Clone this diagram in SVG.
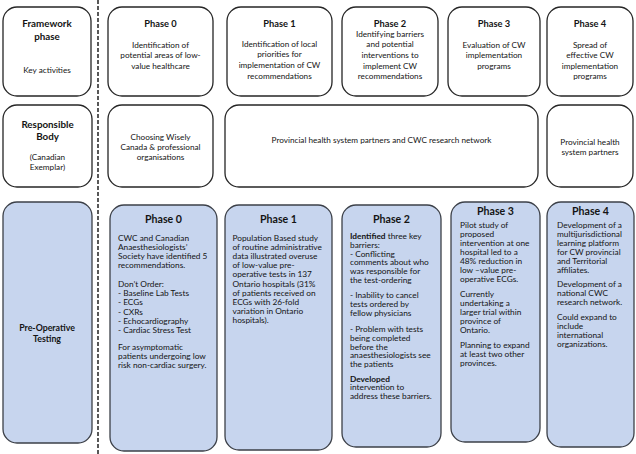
<svg xmlns="http://www.w3.org/2000/svg" width="636" height="454" viewBox="0 0 636 454">
<style>
text{font-family:Lato,"Liberation Sans",sans-serif;fill:#141414}
.box{fill:#fff;stroke:#262626;stroke-width:1.3}
.blue{fill:#c7d5ee;stroke:#3c4048;stroke-width:1.3}
.lab{font-size:9.8px;font-weight:bold;text-anchor:middle}
.h1{font-size:9.3px;font-weight:bold;text-anchor:middle}
.t1{font-size:8.2px;text-anchor:middle}
.h3{font-size:10.6px;font-weight:bold;text-anchor:middle}
.t3{font-size:8.3px}
.pl{font-size:8.8px;font-weight:bold;text-anchor:middle}
.b{font-weight:bold}
</style>
<rect width="636" height="454" fill="#fff"/>
<g id="connectors">
<line x1="98" y1="0" x2="98" y2="454" stroke="#222" stroke-width="1.5" stroke-dasharray="4 2"/>
</g>
<g id="framework-phase">
<rect class="box" x="3" y="7" width="88" height="89" rx="14"/>
<text class="lab" x="47" y="27">Framework</text>
<text class="lab" x="47" y="39.5">phase</text>
<text class="t1" x="47" y="73">Key activities</text>
</g>
<g id="phase0">
<rect class="box" x="108" y="7" width="105" height="89" rx="14"/>
<text class="h1" x="160.5" y="26.5">Phase 0</text>
<text class="t1" x="160.5" y="48">Identification of</text>
<text class="t1" x="160.5" y="58">potential areas of low-</text>
<text class="t1" x="160.5" y="68.7">value healthcare</text>
</g>
<g id="phase1">
<rect class="box" x="227" y="7" width="105" height="89" rx="14"/>
<text class="h1" x="279.5" y="27">Phase 1</text>
<text class="t1" x="279.5" y="47.3">Identification of local</text>
<text class="t1" x="279.5" y="57.3">priorities for</text>
<text class="t1" x="279.5" y="68">implementation of CW</text>
<text class="t1" x="279.5" y="79">recommendations</text>
</g>
<g id="phase2">
<rect class="box" x="342" y="7" width="96" height="89" rx="14"/>
<text class="h1" x="390" y="27">Phase 2</text>
<text class="t1" x="390" y="37.3">Identifying barriers</text>
<text class="t1" x="390" y="47.3">and potential</text>
<text class="t1" x="390" y="58">interventions to</text>
<text class="t1" x="390" y="68.7">implement CW</text>
<text class="t1" x="390" y="79">recommendations</text>
</g>
<g id="phase3">
<rect class="box" x="448" y="7" width="92" height="89" rx="14"/>
<text class="h1" x="494" y="27">Phase 3</text>
<text class="t1" x="494" y="48">Evaluation of CW</text>
<text class="t1" x="494" y="58">implementation</text>
<text class="t1" x="494" y="68.7">programs</text>
</g>
<g id="phase4">
<rect class="box" x="547" y="7" width="86" height="89" rx="14"/>
<text class="h1" x="590" y="27">Phase 4</text>
<text class="t1" x="590" y="48">Spread of</text>
<text class="t1" x="590" y="58">effective CW</text>
<text class="t1" x="590" y="68.7">implementation</text>
<text class="t1" x="590" y="79">programs</text>
</g>
<g id="responsible-body">
<rect class="box" x="3" y="105" width="89" height="82" rx="14"/>
<text class="lab" x="47.5" y="128">Responsible</text>
<text class="lab" x="47.5" y="140">Body</text>
<text class="t1" x="47.5" y="160">(Canadian</text>
<text class="t1" x="47.5" y="170">Exemplar)</text>
</g>
<g id="choosing-wisely">
<rect class="box" x="108" y="105" width="105" height="82" rx="14"/>
<text class="t1" x="160.5" y="139.5">Choosing Wisely</text>
<text class="t1" x="160.5" y="149.5">Canada &amp; professional</text>
<text class="t1" x="160.5" y="159.5">organisations</text>
</g>
<g id="provincial-cwc">
<rect class="box" x="225" y="105" width="313" height="82" rx="14"/>
<text class="t1" x="381.5" y="143">Provincial health system partners and CWC research network</text>
</g>
<g id="provincial-partners">
<rect class="box" x="547" y="105" width="86" height="82" rx="14"/>
<text class="t1" x="590" y="144.5">Provincial health</text>
<text class="t1" x="590" y="154.5">system partners</text>
</g>
<g id="pre-operative">
<rect class="blue" x="3" y="202" width="89" height="241" rx="14"/>
<text class="pl" x="47" y="331">Pre-Operative</text>
<text class="pl" x="47" y="341.5">Testing</text>
</g>
<g id="po-phase0">
<rect class="blue" x="110" y="205" width="107" height="246" rx="14"/>
<text class="h3" x="163.5" y="223">Phase 0</text>
<text class="t3">
<tspan x="118" y="240.5">CWC and Canadian</tspan>
<tspan x="118" y="249.7">Anaesthesiologists’</tspan>
<tspan x="118" y="258.9">Society have identified 5</tspan>
<tspan x="118" y="268.1">recommendations.</tspan>
<tspan x="118" y="287">Don’t Order:</tspan>
<tspan x="118" y="296.2">- Baseline Lab Tests</tspan>
<tspan x="118" y="305.4">- ECGs</tspan>
<tspan x="118" y="314.6">- CXRs</tspan>
<tspan x="118" y="323.8">- Echocardiography</tspan>
<tspan x="118" y="333">- Cardiac Stress Test</tspan>
<tspan x="118" y="350">For asymptomatic</tspan>
<tspan x="118" y="359.2">patients undergoing low</tspan>
<tspan x="118" y="368.4">risk non-cardiac surgery.</tspan>
</text>
</g>
<g id="po-phase1">
<rect class="blue" x="225" y="205" width="107" height="245" rx="14"/>
<text class="h3" x="278.5" y="223">Phase 1</text>
<text class="t3">
<tspan x="232.5" y="240.5">Population Based study</tspan>
<tspan x="232.5" y="249.7">of routine administrative</tspan>
<tspan x="232.5" y="258.9">data illustrated overuse</tspan>
<tspan x="232.5" y="268.1">of low-value pre-</tspan>
<tspan x="232.5" y="277.3">operative tests in 137</tspan>
<tspan x="232.5" y="286.5">Ontario hospitals (31%</tspan>
<tspan x="232.5" y="295.7">of patients received on</tspan>
<tspan x="232.5" y="304.9">ECGs with 26-fold</tspan>
<tspan x="232.5" y="314.1">variation in Ontario</tspan>
<tspan x="232.5" y="323.3">hospitals).</tspan>
</text>
</g>
<g id="po-phase2">
<rect class="blue" x="342" y="205" width="99" height="242" rx="14"/>
<text class="h3" x="391.5" y="223">Phase 2</text>
<text class="t3">
<tspan x="350" y="239"><tspan class="b">Identified</tspan> three key</tspan>
<tspan x="350" y="247.8">barriers:</tspan>
<tspan x="350" y="256.6">- Conflicting</tspan>
<tspan x="350" y="265.4">comments about who</tspan>
<tspan x="350" y="274.2">was responsible for</tspan>
<tspan x="350" y="283">the test-ordering</tspan>
<tspan x="350" y="298">- Inability to cancel</tspan>
<tspan x="350" y="306.8">tests ordered by</tspan>
<tspan x="350" y="315.6">fellow physicians</tspan>
<tspan x="350" y="332">- Problem with tests</tspan>
<tspan x="350" y="340.8">being completed</tspan>
<tspan x="350" y="349.6">before the</tspan>
<tspan x="350" y="358.4">anaesthesiologists see</tspan>
<tspan x="350" y="367.2">the patients</tspan>
<tspan x="350" y="381.5" class="b">Developed</tspan>
<tspan x="350" y="390.3">intervention to</tspan>
<tspan x="350" y="399.1">address these barriers.</tspan>
</text>
</g>
<g id="po-phase3">
<rect class="blue" x="451" y="202" width="89" height="240" rx="14"/>
<text class="h3" x="495.5" y="215">Phase 3</text>
<text class="t3">
<tspan x="460" y="228">Pilot study of</tspan>
<tspan x="460" y="237">proposed</tspan>
<tspan x="460" y="246">intervention at one</tspan>
<tspan x="460" y="255">hospital led to a</tspan>
<tspan x="460" y="264">48% reduction in</tspan>
<tspan x="460" y="273">low –value pre-</tspan>
<tspan x="460" y="282">operative ECGs.</tspan>
<tspan x="460" y="297">Currently</tspan>
<tspan x="460" y="306">undertaking a</tspan>
<tspan x="460" y="315">larger trial within</tspan>
<tspan x="460" y="324">province of</tspan>
<tspan x="460" y="333">Ontario.</tspan>
<tspan x="460" y="348">Planning to expand</tspan>
<tspan x="460" y="357">at least two other</tspan>
<tspan x="460" y="366">provinces.</tspan>
</text>
</g>
<g id="po-phase4">
<rect class="blue" x="547" y="202" width="87" height="245" rx="14"/>
<text class="h3" x="590.5" y="215">Phase 4</text>
<text class="t3">
<tspan x="557" y="228">Development of a</tspan>
<tspan x="557" y="237">multijurisdictional</tspan>
<tspan x="557" y="246">learning platform</tspan>
<tspan x="557" y="255">for CW provincial</tspan>
<tspan x="557" y="264">and Territorial</tspan>
<tspan x="557" y="273">affiliates.</tspan>
<tspan x="557" y="287">Development of a</tspan>
<tspan x="557" y="296">national CWC</tspan>
<tspan x="557" y="305">research network.</tspan>
<tspan x="557" y="320">Could expand to</tspan>
<tspan x="557" y="329">include</tspan>
<tspan x="557" y="338">international</tspan>
<tspan x="557" y="347">organizations.</tspan>
</text>
</g>
</svg>
